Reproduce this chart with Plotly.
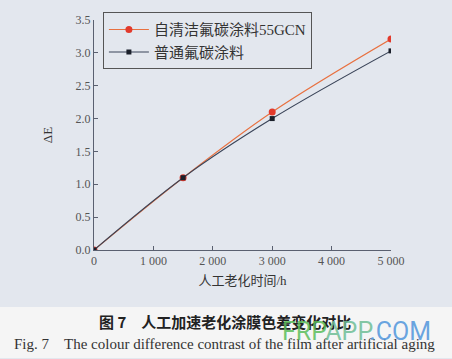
import plotly.graph_objects as go

hours = [0, 1500, 3000, 5000]
de_self_clean = [0.0, 1.1, 2.1, 3.21]
de_normal = [0.0, 1.1, 2.0, 3.03]
x_ticks = [0, 1000, 2000, 3000, 4000, 5000]
x_tick_text = ["0", "1 000", "2 000", "3 000", "4 000", "5 000"]
y_ticks = [0.0, 0.5, 1.0, 1.5, 2.0, 2.5, 3.0, 3.5]
y_tick_text = ["0.0", "0.5", "1.0", "1.5", "2.0", "2.5", "3.0", "3.5"]
names = ["自清洁氟碳涂料55GCN", "普通氟碳涂料"]

serif = "Liberation Serif, Noto Sans CJK SC, serif"

fig = go.Figure()
fig.add_trace(go.Scatter(
    x=hours, y=de_self_clean, name=names[0], mode="lines+markers",
    line=dict(color="#e8703f", width=1.1, shape="spline"),
    marker=dict(color="#e23a2c", size=7, symbol="circle"),
))
fig.add_trace(go.Scatter(
    x=hours, y=de_normal, name=names[1], mode="lines+markers",
    line=dict(color="#3a4458", width=1.1, shape="spline"),
    marker=dict(color="#1a1f2a", size=5, symbol="square"),
))

fig.update_layout(
    width=452, height=359,
    margin=dict(l=94, r=61, t=16, b=109),
    paper_bgcolor="#e3e7ee", plot_bgcolor="#e3e7ee",
    showlegend=True,
    legend=dict(
        x=0.03, y=1.034, xanchor="left", yanchor="top",
        bgcolor="rgba(0,0,0,0)", bordercolor="#555", borderwidth=1,
        font=dict(family=serif, size=15, color="#333"),
        itemwidth=40, tracegroupgap=0,
    ),
    xaxis=dict(
        range=[0, 5000], tickvals=x_ticks, ticktext=x_tick_text,
        showgrid=False, zeroline=False, showline=True, linecolor="#5a6070", linewidth=1,
        ticks="inside", ticklen=4, tickcolor="#5a6070",
        tickfont=dict(family=serif, size=12, color="#555"),
        title=dict(text="人工老化时间/h", font=dict(family=serif, size=13, color="#333"), standoff=8),
    ),
    yaxis=dict(
        range=[0, 3.5], tickvals=y_ticks, ticktext=y_tick_text,
        showgrid=False, zeroline=False, showline=True, linecolor="#5a6070", linewidth=1,
        ticks="inside", ticklen=4, tickcolor="#5a6070",
        tickfont=dict(family=serif, size=12, color="#555"),
        title=dict(text="ΔE", font=dict(family=serif, size=13, color="#333"), standoff=20),
    ),
    shapes=[dict(type="rect", xref="paper", yref="paper", x0=-0.4, x1=1.3, y0=-0.47, y1=-0.248,
                 fillcolor="#f5f5f5", line=dict(width=0), layer="below")],
    annotations=[
        dict(text="<b>图 7　人工加速老化涂膜色差变化对比</b>", xref="paper", yref="paper",
             x=0.44, y=-0.31, xanchor="center", yanchor="middle", showarrow=False,
             font=dict(family="Noto Sans CJK SC", size=15, color="#222")),
        dict(text="Fig. 7　The colour difference contrast of the film after artificial aging",
             xref="paper", yref="paper", x=0.44, y=-0.41, xanchor="center", yanchor="middle",
             showarrow=False, font=dict(family=serif, size=15, color="#333")),
        dict(text="<span style='color:rgba(90,190,90,0.85)'>FRP</span>"
                  "<span style='color:rgba(110,190,150,0.85)'>APP</span>"
                  "<span style='color:rgba(80,150,220,0.85)'>.COM</span>",
             xref="paper", yref="paper", x=0.885, y=-0.355,
             xanchor="center", yanchor="middle", showarrow=False,
             font=dict(family="Liberation Sans Narrow, Roboto, sans-serif", size=25)),
    ],
)

fig.write_html("out.html")
